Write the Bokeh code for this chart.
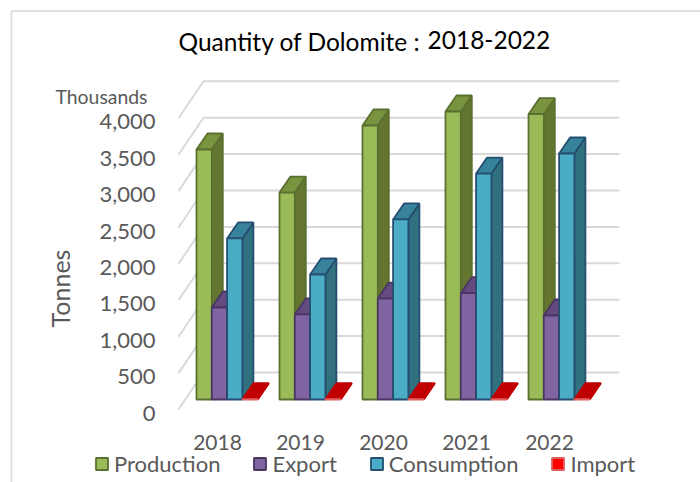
from bokeh.plotting import figure
from bokeh.models import (Range1d, FixedTicker, NumeralTickFormatter, Label, Legend,
                          LegendItem, LinearAxis)
from bokeh.embed import file_html
from bokeh.resources import INLINE
import math

years = ["2018", "2019", "2020", "2021", "2022"]
production = [3434, 2843, 3764, 3956, 3919]
export = [1264, 1168, 1387, 1460, 1154]
consumption = [2212, 1717, 2473, 3104, 3379]
imports = [4, 4, 4, 4, 4]
y_ticks = [0, 500, 1000, 1500, 2000, 2500, 3000, 3500, 4000]

FONT = "Lato"
GREY = "#595959"
GRID = "#D9D9D9"

# pixel layout of the image -> data coordinates
PX_GROUP = 83.0
PX_X0 = 217.0
PY_V0 = 412.5
PY_UNIT = 0.0728
W, H = 700, 482


def X(px):
    return (px - PX_X0) / PX_GROUP


def V(py):
    return (PY_V0 - py) / PY_UNIT


def DX(px):
    return px / PX_GROUP


def DV(px):
    return px / PY_UNIT


p = figure(width=W, height=H, output_backend="svg", toolbar_location=None,
           x_range=Range1d(X(0), X(W)), y_range=Range1d(V(H), V(0)),
           x_axis_location=None, y_axis_location=None, min_border=0)
p.outline_line_color = None
p.grid.visible = False

yaxis = LinearAxis(ticker=FixedTicker(ticks=y_ticks),
                   formatter=NumeralTickFormatter(format="0,0"),
                   fixed_location=X(164))
xaxis = LinearAxis(ticker=FixedTicker(ticks=list(range(len(years)))),
                   major_label_overrides={i: y for i, y in enumerate(years)},
                   fixed_location=V(424))
for ax in (xaxis, yaxis):
    ax.axis_line_color = None
    ax.major_tick_line_color = None
    ax.minor_tick_line_color = None
    ax.major_label_text_font = FONT
    ax.major_label_text_color = GREY
yaxis.major_label_text_font_size = "22px"
xaxis.major_label_text_font_size = "21px"
yaxis.major_label_standoff = 3
xaxis.major_label_standoff = 4
p.add_layout(yaxis, "left")
p.add_layout(xaxis, "below")

# chart-area border (top and left edges)
p.line(x=[X(11), X(11), X(720)], y=[V(490), V(10.5), V(10.5)], line_color="#E0E0E0", line_width=2)

# walls: horizontal lines on the back wall and diagonals on the side wall
wall_x0, wall_x1, wall_x2 = X(178), X(203), X(619)
front_up, back_up = DV(3.5), DV(40.5)
p.multi_line(xs=[[wall_x0, wall_x1, wall_x2] for _ in y_ticks],
             ys=[[t + front_up, t + back_up, t + back_up] for t in y_ticks],
             line_color=GRID, line_width=2)

# bars in an oblique projection
bar_x0 = DX(196 - PX_X0)
bar_w = DX(15.3)
depth_x = DX(11)
depth_v = DV(16)
base = DV(13.5)


def bar_faces(k, vals):
    front_x, front_y, side_x, side_y, top_x, top_y = [], [], [], [], [], []
    for i, v in enumerate(vals):
        l = i + bar_x0 + k * bar_w
        r = l + bar_w
        b, t = base, base + v
        front_x.append([l, r, r, l])
        front_y.append([b, b, t, t])
        side_x.append([r, r + depth_x, r + depth_x, r])
        side_y.append([b, b + depth_v, t + depth_v, t])
        top_x.append([l, r, r + depth_x, l + depth_x])
        top_y.append([t, t, t + depth_v, t + depth_v])
    return front_x, front_y, side_x, side_y, top_x, top_y


series = [
    ("Production", production, "#9BBB59", "#64752F", "#7A933F", "#5A7030"),
    ("Export", export, "#8064A2", "#5F4A79", "#654A80", "#4A3663"),
    ("Consumption", consumption, "#4BACC6", "#31707F", "#38839C", "#254E70"),
    ("Import", imports, "#FF0000", "#C00000", "#C00000", "#E06060"),
]
items = []
for k, (name, vals, c_front, c_side, c_top, c_line) in enumerate(series):
    fx, fy, sx, sy, tx, ty = bar_faces(k, vals)
    edge = c_top if name == "Import" else c_line
    p.patches(sx, sy, fill_color=c_side, line_color=edge, line_width=1.8)
    p.patches(tx, ty, fill_color=c_top, line_color=edge, line_width=1.8)
    r = p.patches(fx, fy, fill_color=c_front, line_color=c_line, line_width=1.8)
    items.append(LegendItem(label=name, renderers=[r]))

legend = Legend(items=items, orientation="horizontal", location=(94, H - 477),
                spacing=32, glyph_width=15, glyph_height=15, label_standoff=5,
                margin=0, padding=0, background_fill_alpha=0, border_line_color=None,
                label_text_font=FONT, label_text_font_size="22px", label_text_color=GREY,
                label_height=24)
p.add_layout(legend, "center")


def text(s, px, py, size, color, **kw):
    p.add_layout(Label(x=X(px), y=V(py), text=s, text_font=FONT, text_font_size=size,
                       text_color=color, text_baseline="middle", **kw))


text("Quantity of Dolomite : ", 178, 41, "24.5px", "#000000")
text("2018-2022", 427, 39, "24.5px", "#000000")
text("Thousands", 55, 96, "19.4px", GREY)
text("Tonnes", 59, 288, "25px", GREY, angle=math.pi / 2, text_align="center")

open("out.html", "w").write(file_html(p, INLINE))
